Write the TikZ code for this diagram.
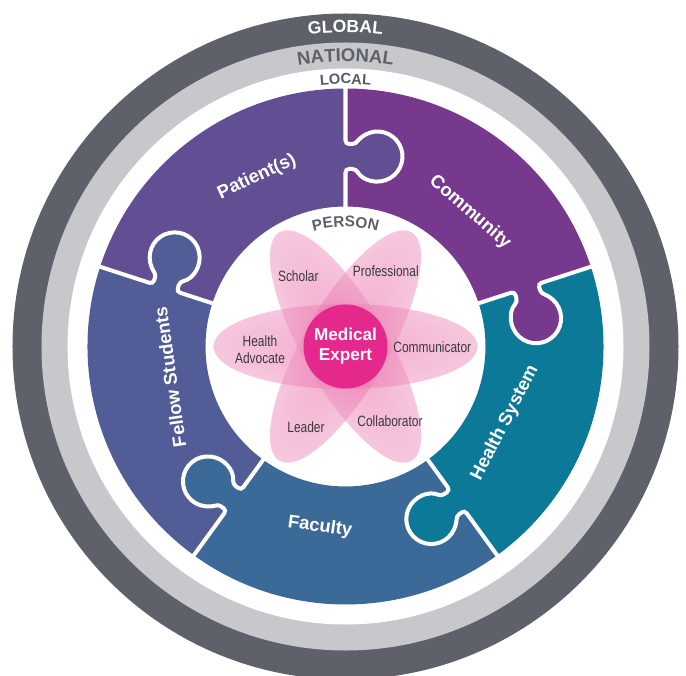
\documentclass[tikz,border=0pt]{standalone}
\usepackage{fontspec}
\setmainfont{Liberation Sans}
\newfontfamily\narrowfont[FakeStretch=0.8]{Liberation Sans}
\usetikzlibrary{decorations.text}

\definecolor{globalgray}{HTML}{5F616A}
\definecolor{nationalgray}{HTML}{C8C7CC}
\definecolor{localgray}{HTML}{575A63}
\definecolor{patientcol}{HTML}{624E92}
\definecolor{communitycol}{HTML}{77398E}
\definecolor{healthcol}{HTML}{0D7998}
\definecolor{facultycol}{HTML}{3C6A98}
\definecolor{fellowcol}{HTML}{525C97}
\definecolor{expertcol}{HTML}{E5288C}
\definecolor{petalin}{HTML}{E8589E}
\definecolor{petalout}{HTML}{F5C8DE}
\definecolor{labelgray}{HTML}{3A3A3C}

\pgfdeclareradialshading{petalshade}{\pgfpoint{0bp}{0bp}}{color(0bp)=(petalin); color(50bp)=(petalout)}

\begin{document}
\begin{tikzpicture}[x=0.04cm,y=0.04cm,
	piece/.style={text=white,font=\bfseries\fontsize{21}{24}\selectfont},
	petal/.style={text=labelgray,font=\narrowfont\fontsize{17}{19}\selectfont,align=center}]
	\fill[white] (-345.5,-328.5) rectangle (340.5,346.5);
	\useasboundingbox (-345.5,-328.5) rectangle (340.5,346.5);

	%RINGS
	\fill[globalgray] (0,0) circle (333);
	\fill[nationalgray] (0,0) circle (304);
	\fill[white] (0,0) circle (278);

	\path[decorate,decoration={text along path,text align=center,text color=white,
		text={|\bfseries\fontsize{20}{20}\selectfont|GLOBAL}}] (180:314) arc[start angle=180,end angle=0,radius=314];
	\path[decorate,decoration={text along path,text align=center,text color=globalgray,
		text={|\bfseries\fontsize{21}{21}\selectfont|NATIONAL}}] (180:285) arc[start angle=180,end angle=0,radius=285];
	\path[decorate,decoration={text along path,text align=center,text color=localgray,
		text={|\bfseries\fontsize{16.7}{17}\selectfont|LOCAL}}] (180:262.5) arc[start angle=180,end angle=0,radius=262.5];
	\path[decorate,decoration={text along path,text align=center,text color=globalgray,
		text={|\bfseries\fontsize{17.5}{18}\selectfont|PERSON}}] (180:119.5) arc[start angle=180,end angle=0,radius=119.5];

	%PUZZLE PIECES
	\foreach \a/\c in {90/patientcol,18/communitycol,-54/healthcol,-126/facultycol,-198/fellowcol}{
	\pgfmathsetmacro{\b}{\a+72}
	\fill[\c] (\a:140) -- (\a:258) arc[start angle=\a,end angle=\b,radius=258] -- (\b:140) arc[start angle=\b,end angle=\a,radius=140] -- cycle;
	}

	%knobs, each one sticks out clockwise
	\foreach \a/\c in {90/patientcol,18/communitycol,-54/healthcol,-126/facultycol,-198/fellowcol}
	\fill[\c,rotate=\a,rounded corners=4pt] (170,0) -- (177.5,0) -- (177.5,-10.35) arc[start angle=120,end angle=420,radius=25] -- (202.5,0) -- (210,0) -- (210,6) -- (170,6) -- cycle;

	\foreach \a in {90,18,-54,-126,-198}
	\draw[white,line width=0.16cm,rotate=\a,rounded corners=4pt] (136,0) -- (177.5,0) -- (177.5,-10.35) arc[start angle=120,end angle=420,radius=25] -- (202.5,0) -- (262,0);

	\node[piece,rotate=25] (patients) at (-88.5,169.5) {Patient(s)};
	\node[piece,rotate=-41] (community) at (124.5,134.5) {Community};
	\node[piece,rotate=63] (healthsys) at (159.5,-76.5) {Health System};
	\node[piece,rotate=-8] (faculty) at (-25.5,-180.5) {Faculty};
	\node[piece,rotate=98] (fellows) at (-175.5,-30.5) {Fellow Students};

	%PETALS
	\foreach \r in {0,60,120}
	\shade[shading=petalshade,opacity=0.5,transform canvas={rotate=\r}] (0,0) ellipse[x radius=132,y radius=42.5];

	\node[circle,fill=expertcol,minimum size=3.36cm,inner sep=0pt,text=white,align=center,
		font=\bfseries\fontsize{19.5}{22.8}\selectfont] (expert) at (0,0) {Medical\\Expert};

	\node[petal] (scholar) at (-47.2,70.3) {Scholar};
	\node[petal] (professional) at (40.3,75.5) {Professional};
	\node[petal] (advocate) at (-85.5,-3.5) {Health\\Advocate};
	\node[petal] (communicator) at (86.8,-1) {Communicator};
	\node[petal] (leader) at (-39.5,-81) {Leader};
	\node[petal] (collaborator) at (44.5,-74.3) {Collaborator};
\end{tikzpicture}
\end{document}
